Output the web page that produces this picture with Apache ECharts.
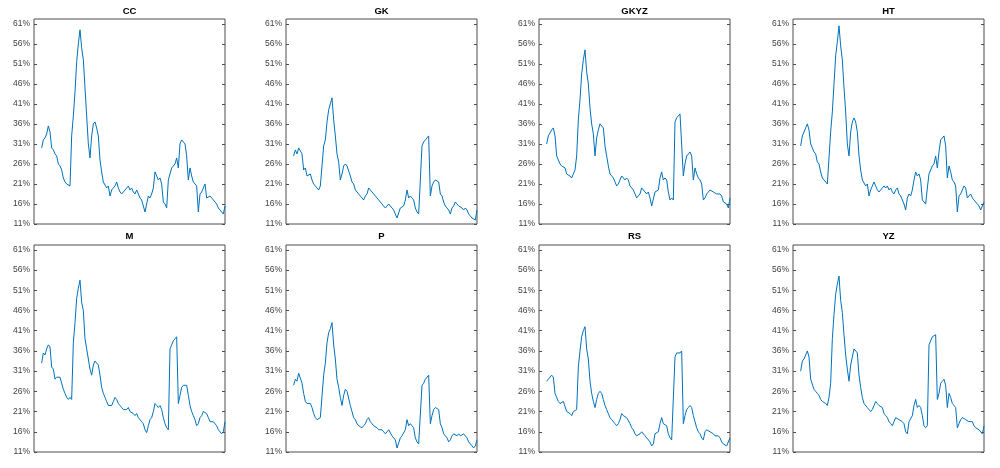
<!DOCTYPE html>
<html>
<head>
<meta charset="utf-8">
<script src="https://cdn.jsdelivr.net/npm/echarts@6/dist/echarts.min.js"></script>
<style>
  html, body { margin: 0; padding: 0; background: #fff; }
  #chart { width: 1000px; height: 468px; }
</style>
</head>
<body>
<div id="chart"></div>
<script>
// panel names, in reading order
const names = ['CC', 'GK', 'GKYZ', 'HT', 'M', 'P', 'RS', 'YZ'];

// y tick values (percent)
const yTicks = [11, 16, 21, 26, 31, 36, 41, 46, 51, 56, 61];

// series values (percent), one value per period
const cc = [
  30, 32, 32.5, 33.5, 35.5, 34, 30, 29.5, 28.5, 28,
  26, 25.5, 24.5, 22.5, 21.5, 21, 21, 20.5, 33, 38,
  44, 51.5, 56, 59.5, 55, 52, 45, 38, 31, 27.5,
  33, 36, 36.5, 35, 33, 27, 24, 21.5, 21.5, 20,
  20.5, 18, 19.5, 20, 20.5, 21.5, 20, 19, 18.5, 19,
  19.5, 20, 20.5, 19.5, 20, 19, 18.5, 19.5, 18.5, 17.5,
  17, 15.5, 14, 16, 18, 17.5, 18.5, 20, 24, 23,
  22, 22.5, 21, 16.5, 16, 15, 22, 23.5, 25, 25.5,
  26, 27.5, 25, 31, 32, 31.5, 31, 28, 22, 25,
  23, 21.5, 21, 20.5, 14, 18.5, 19, 20, 21, 17.5,
  17.5, 18, 17.5, 17, 16.5, 16, 15, 15, 14, 13.5,
  15.5
];
const gk = [
  28, 29.5, 28.5, 30, 30, 28.5, 24.5, 25, 23, 23,
  23.5, 22, 21, 20.5, 20, 19.5, 20.5, 20.5, 30.5, 32,
  36.5, 39.5, 41, 42.5, 37, 33, 28.5, 26.5, 22, 23.5,
  25.5, 26, 25.5, 25.5, 23, 21.5, 21, 19.5, 19.5, 18.5,
  18, 17.5, 17, 18, 18.5, 20, 19.5, 19, 18.5, 18.5,
  17.5, 17, 16.5, 16, 15.5, 15, 15.5, 16, 16, 15,
  14.5, 13.5, 12.5, 12.5, 15, 15, 15.5, 17, 19.5, 17.5,
  18, 17.5, 17, 15, 14, 13.5, 13.5, 30.5, 31.5, 32,
  32.5, 33, 18, 20.5, 21.5, 22, 22, 21.5, 18.5, 18,
  16.5, 15.5, 15, 14.5, 13.5, 15, 15.5, 16.5, 16, 15.5,
  15.5, 15, 14.5, 15, 14.5, 13.5, 13, 12.5, 12.5, 12,
  14.5
];
const gkyz = [
  31, 33, 33, 34.5, 35, 33, 28, 28, 26, 25.5,
  25.5, 25, 23.5, 23.5, 23, 22.5, 23.5, 24.5, 28, 37,
  42, 48.5, 52, 54.5, 49, 46, 40, 36, 33.5, 28,
  32.5, 34.5, 36, 35.5, 35, 30.5, 28, 25.5, 23.5, 23,
  22.5, 21.5, 20.5, 21, 22, 23, 22.5, 22, 22.5, 22,
  20.5, 20, 19.5, 18.5, 17.5, 17.5, 18.5, 20, 19.5, 19,
  18.5, 19, 17.5, 15.5, 15.5, 19, 19, 19.5, 22.5, 24,
  22, 22.5, 22, 19, 17, 17.5, 17, 36.5, 37.5, 38,
  38.5, 38.5, 23, 26, 28, 28.5, 29, 28, 22, 25,
  23.5, 22.5, 22, 21, 17, 17.5, 18.5, 19, 19.5, 19.5,
  19, 19, 18.5, 18.5, 18.5, 18, 16.5, 16.5, 16, 15,
  17.5
];
const ht = [
  30.5, 33, 33, 35, 36, 34.5, 31, 30, 29, 28.5,
  26.5, 26, 24, 22.5, 22, 22, 21, 21, 34, 39,
  46, 53, 56.5, 60.5, 55.5, 52, 45, 39, 31, 28,
  34, 36.5, 37.5, 36.5, 34, 28, 24.5, 22, 22, 20.5,
  21, 18, 19.5, 20.5, 21.5, 20.5, 19.5, 19, 19.5, 20,
  20.5, 20, 20.5, 19.5, 20, 19, 18.5, 19.5, 20, 18.5,
  18, 17, 16, 14.5, 17.5, 18.5, 18, 19.5, 22, 24,
  23, 23.5, 22, 17, 16.5, 16, 20, 23.5, 24.5, 25.5,
  26, 28, 25, 29, 32, 32, 33, 30.5, 22.5, 25.5,
  24, 22, 21.5, 20.5, 14, 18, 18.5, 19.5, 20.5, 20,
  17.5, 18, 18.5, 17.5, 17, 16.5, 16.5, 15.5, 14.5, 14.5,
  16.5
];
const m = [
  33, 35.5, 35, 36.5, 37.5, 37, 32, 31.5, 29, 29.5,
  29.5, 29.5, 28, 26.5, 25.5, 24.5, 24, 24.5, 24, 38,
  43, 49, 51.5, 53.5, 48, 46, 39, 36.5, 34, 31.5,
  30, 32.5, 33.5, 33, 32.5, 30, 27, 25.5, 24.5, 23.5,
  22.5, 22.5, 22.5, 23.5, 24.5, 24, 23, 22.5, 22, 21.5,
  21.5, 21.5, 22, 21, 21, 20.5, 20, 20.5, 19.5, 19,
  18.5, 18, 16.5, 15.8, 17.5, 19, 19.5, 21, 23, 22.5,
  22, 22.5, 21.5, 19.5, 18, 17, 16.5, 36.5, 37.5, 38.5,
  39, 39.5, 23, 25, 27, 27.5, 27.5, 27.5, 25, 22.5,
  21, 20, 19, 17.5, 18, 19.5, 20, 21, 21, 20.5,
  19.5, 18.5, 18.5, 18.5, 18.5, 17.5, 16.5, 16, 15.5, 16,
  18.5
];
const p = [
  27.5, 29, 28.5, 30.5, 30.5, 28, 25.5, 23.5, 23, 23,
  23, 22, 20.5, 19.5, 19, 19, 19.5, 19.5, 30, 33,
  38, 40.5, 41.5, 43, 37.5, 34, 29, 27, 24.5, 22.5,
  25, 26.5, 26, 26, 22.5, 21, 19.5, 19, 18, 17.5,
  17.5, 17, 17.5, 18, 19, 19.5, 18.5, 18, 17.5, 17.5,
  17, 16.5, 16.5, 16.5, 16, 15.5, 16, 16.5, 16.5, 15,
  14.5, 14, 12, 12, 14.5, 15, 15, 16.5, 19, 17.5,
  18, 17.5, 17, 14.5, 13.5, 13, 13, 27.5, 28, 29,
  29, 30, 18, 20, 21.5, 22, 22, 21.5, 18, 17,
  15.5, 15, 14.5, 13.5, 14, 15, 15.5, 15.5, 15, 15.5,
  15, 15, 15.5, 15.5, 14.5, 13.5, 13, 12.5, 12, 12.5,
  14
];
const rs = [
  28.5, 29, 29, 30, 29.5, 25.5, 24.5, 23.5, 23, 23,
  23.5, 23.5, 21, 21, 20.5, 20, 21, 21, 21.5, 32,
  36, 39.5, 41, 42, 36.5, 34, 28.5, 25.5, 23.5, 22,
  24, 25.5, 26, 25.5, 24, 22.5, 21.5, 20.5, 19.5, 19,
  18.5, 18, 17.5, 18, 19, 20.5, 20, 20, 19.5, 19.5,
  18, 17, 16.5, 15.5, 15, 15, 15.5, 16, 16, 15,
  14.5, 14.5, 13.5, 12.5, 13, 15.5, 15.5, 16, 18, 19.5,
  18, 18, 17.5, 15.5, 14.5, 14, 14, 34.5, 35.5, 35.5,
  35.5, 36, 18, 20, 21.5, 22, 22.5, 22, 20, 18.5,
  17, 16, 15.5, 14.5, 14, 16, 16.5, 16.5, 16, 16,
  15.5, 15, 15, 15, 14.5, 13.5, 13, 13, 12.5, 12.5,
  14.5
];
const yz = [
  31, 33.5, 34, 35, 36, 34.5, 29, 29, 26.5, 26,
  25.5, 25, 24, 23.5, 23.5, 23, 22.5, 24.5, 28, 39,
  45, 50, 52.5, 54.5, 48.5, 45.5, 40, 35, 31.5, 28.5,
  32.5, 34.5, 36.5, 36.5, 35.5, 30, 27, 24.5, 23, 23,
  22, 21.5, 21, 21.5, 22.5, 23.5, 23, 22.5, 22.5, 22,
  20.5, 20, 19.5, 18.5, 18, 17.5, 18.5, 19.5, 19.5, 19,
  19, 18.5, 18, 16, 15.5, 18.5, 18.5, 20, 22.5, 24,
  22, 22.5, 22, 20, 17.5, 17, 17.5, 37.5, 38.5, 39.5,
  39.5, 40, 24, 25.5, 28, 28.5, 29, 27.5, 22, 25.5,
  24.5, 23, 22.5, 22, 17, 18, 19, 19.5, 19.5, 19,
  19, 18.5, 18.5, 18.5, 17.5, 17, 17, 16.5, 16.5, 15.5,
  17.5
];

const allData = [cc, gk, gkyz, ht, m, p, rs, yz];

// layout of the 2 x 4 panels
const colLeft = [34, 286, 539, 793];
const rowTop = [19, 245];
const rowHeight = [205, 207];
const boxWidth = 191;
const font = '"Liberation Sans", Arial, sans-serif';
const axisColor = '#4d4d4d';

const chart = echarts.init(document.getElementById('chart'), null, { renderer: 'canvas' });

const grids = [], xAxes = [], yAxes = [], series = [], titles = [];

allData.forEach((vals, i) => {
  const row = Math.floor(i / 4), col = i % 4;
  grids.push({
    left: colLeft[col], top: rowTop[row], width: boxWidth, height: rowHeight[row],
    show: true, borderColor: axisColor, borderWidth: 1, backgroundColor: '#fff'
  });
  xAxes.push({
    type: 'value', gridIndex: i, min: -4.6, max: vals.length - 1,
    axisLine: { show: false, onZero: false }, axisTick: { show: false },
    axisLabel: { show: false }, splitLine: { show: false }
  });
  // left axis with labels
  yAxes.push({
    type: 'value', gridIndex: i, position: 'left', min: 11, max: 62.2,
    axisLine: { show: false, onZero: false },
    axisTick: { show: true, inside: true, length: 3, customValues: yTicks,
      lineStyle: { color: axisColor } },
    axisLabel: { show: true, customValues: yTicks, formatter: v => v + '%',
      fontSize: 8.5, color: '#404040', fontFamily: font, margin: 4 },
    splitLine: { show: false }
  });
  // right axis, ticks only
  yAxes.push({
    type: 'value', gridIndex: i, position: 'right', min: 11, max: 62.2,
    axisLine: { show: false, onZero: false },
    axisTick: { show: true, inside: true, length: 3, customValues: yTicks,
      lineStyle: { color: axisColor } },
    axisLabel: { show: false }, splitLine: { show: false }
  });
  series.push({
    type: 'line', xAxisIndex: i, yAxisIndex: i * 2,
    data: vals.map((v, k) => [k, v]),
    showSymbol: false, symbol: 'none',
    lineStyle: { color: '#0072BD', width: 1 },
    silent: true
  });
  titles.push({
    text: names[i], left: colLeft[col] + boxWidth / 2, top: row === 0 ? 6.5 : 231,
    textAlign: 'center', padding: 0,
    textStyle: { fontSize: 9.5, fontWeight: 'bold', color: '#000', fontFamily: font }
  });
});

chart.setOption({
  animation: false,
  backgroundColor: '#fff',
  title: titles,
  grid: grids,
  xAxis: xAxes,
  yAxis: yAxes,
  series: series
});
</script>
</body>
</html>
